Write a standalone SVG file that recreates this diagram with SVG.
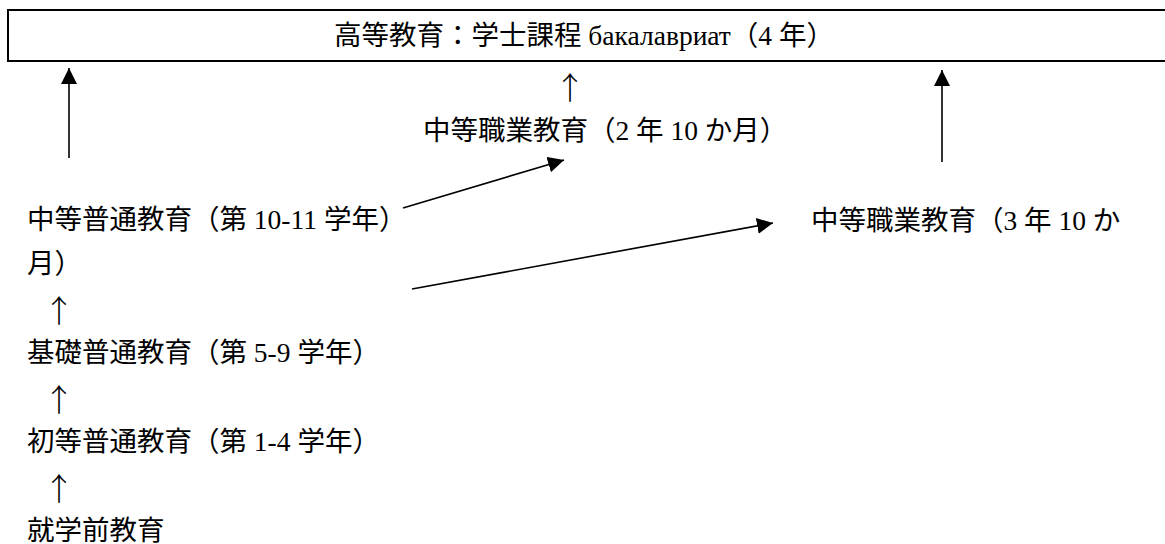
<svg xmlns="http://www.w3.org/2000/svg" width="1165" height="544" viewBox="0 0 1165 544">
<style>
text { font-family: "Liberation Serif", "Noto Sans CJK JP", serif; font-size: 27.5px; fill: #000; }
text.up { font-family: "Noto Sans CJK JP", sans-serif; font-size: 31px; text-anchor: middle; font-weight: 300; }
.conn { stroke: #000; stroke-width: 1.6; fill: none; }
.box { fill: #fff; stroke: #000; stroke-width: 2; }
</style>
<defs>
<marker id="ah" markerUnits="userSpaceOnUse" markerWidth="16" markerHeight="16" refX="15" refY="7.5" orient="auto" viewBox="0 0 15 15">
<path d="M0,0 L15,7.5 L0,15 z" fill="#000"/>
</marker>
</defs>
<rect width="1165" height="544" fill="#fff"/>
<g id="higher">
<rect class="box" x="8" y="10" width="1170" height="51"/>
<text x="334" y="45">高等教育：学士課程 бакалавриат（4 年）</text>
</g>
<g id="voc2">
<text class="up" x="570" y="99">↑</text>
<text x="423" y="140">中等職業教育（2 年 10 か月）</text>
</g>
<g id="voc3">
<text x="811" y="230">中等職業教育（3 年 10 か</text>
</g>
<g id="secondary">
<text x="27" y="229">中等普通教育（第 10-11 学年）</text>
<text x="27" y="273">月）</text>
</g>
<g id="basic">
<text class="up" x="59" y="322">↑</text>
<text x="27" y="362">基礎普通教育（第 5-9 学年）</text>
</g>
<g id="primary">
<text class="up" x="59" y="411">↑</text>
<text x="27" y="451">初等普通教育（第 1-4 学年）</text>
</g>
<g id="preschool">
<text class="up" x="59" y="500">↑</text>
<text x="27" y="540">就学前教育</text>
</g>
<g id="connectors">
<line class="conn" x1="69" y1="158" x2="69" y2="68" marker-end="url(#ah)"/>
<line class="conn" x1="942" y1="162" x2="942" y2="70" marker-end="url(#ah)"/>
<line class="conn" x1="403" y1="208" x2="564" y2="160" marker-end="url(#ah)"/>
<line class="conn" x1="412" y1="289" x2="773" y2="223" marker-end="url(#ah)"/>
</g>
</svg>
